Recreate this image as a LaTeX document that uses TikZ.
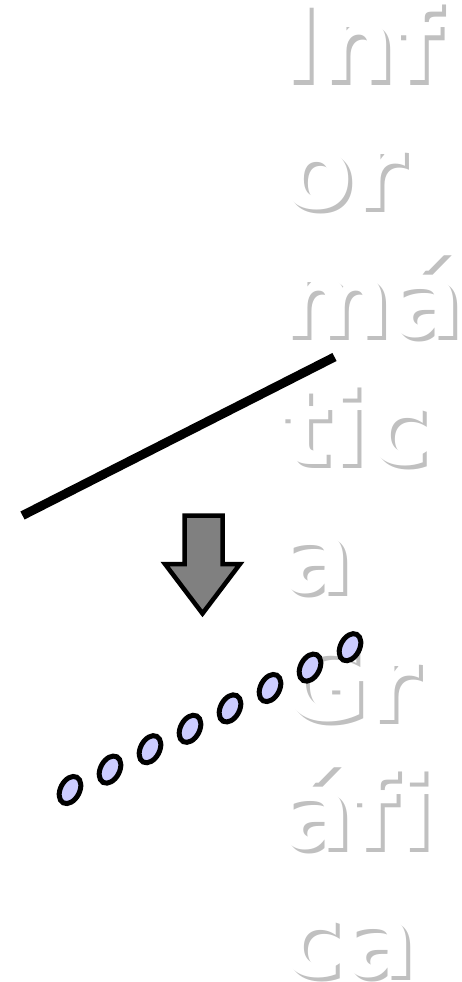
\documentclass[tikz,border=0pt]{standalone}
\usepackage{fontspec}
\newfontfamily\titlefont{DejaVu Sans}[Ligatures=NoCommon]
\usetikzlibrary{shapes.geometric}
\definecolor{shadowgray}{RGB}{192,192,192}
\definecolor{lav}{RGB}{204,204,255}
\definecolor{arrowgray}{RGB}{128,128,128}
\tikzset{
  txt/.style={anchor=base west, inner sep=0pt, text=white,
    font=\titlefont\bfseries\fontsize{106}{128}\selectfont},
  shadowtxt/.style={txt, text=shadowgray},
  dot/.style={ellipse, draw=black, fill=lav, line width=5pt,
    minimum width=29pt, minimum height=19pt, inner sep=0pt, rotate=62},
  bigline/.style={line width=9pt, black},
  downarrow/.style={draw=black, fill=arrowgray, line width=4.5pt, line join=miter}
}
\begin{document}
\begin{tikzpicture}[x=1pt,y=-1pt]
\useasboundingbox (0,0) rectangle (461,982);
% title text with shadow
\foreach \t [count=\i] in {Inf,or,má,tic,a,Gr,áfi,ca} {
  \pgfmathsetmacro\yb{81+127.9*(\i-1)}
  \node[shadowtxt] (s\i) at (284,{\yb+4}) {\t};
  \node[txt] (t\i) at (280,\yb) {\t};
}
% continuous line
\coordinate (la) at (22.5,515.5);
\coordinate (lb) at (334.5,357);
\draw[bigline] (la) -- (lb);
% down arrow
\draw[downarrow] (184.5,515.5) -- (222.5,515.5) -- (222.5,564) -- (240,564)
  -- (202.5,613.5) -- (165,564) -- (184.5,564) -- cycle;
% rasterised dots
\foreach \x/\y [count=\k] in {70/790,110/769.6,150/749.2,190/728.8,230/708.4,270/688,310/667.6,350/647.2} {
  \node[dot] (e\k) at (\x,\y) {};
}
\end{tikzpicture}
\end{document}
